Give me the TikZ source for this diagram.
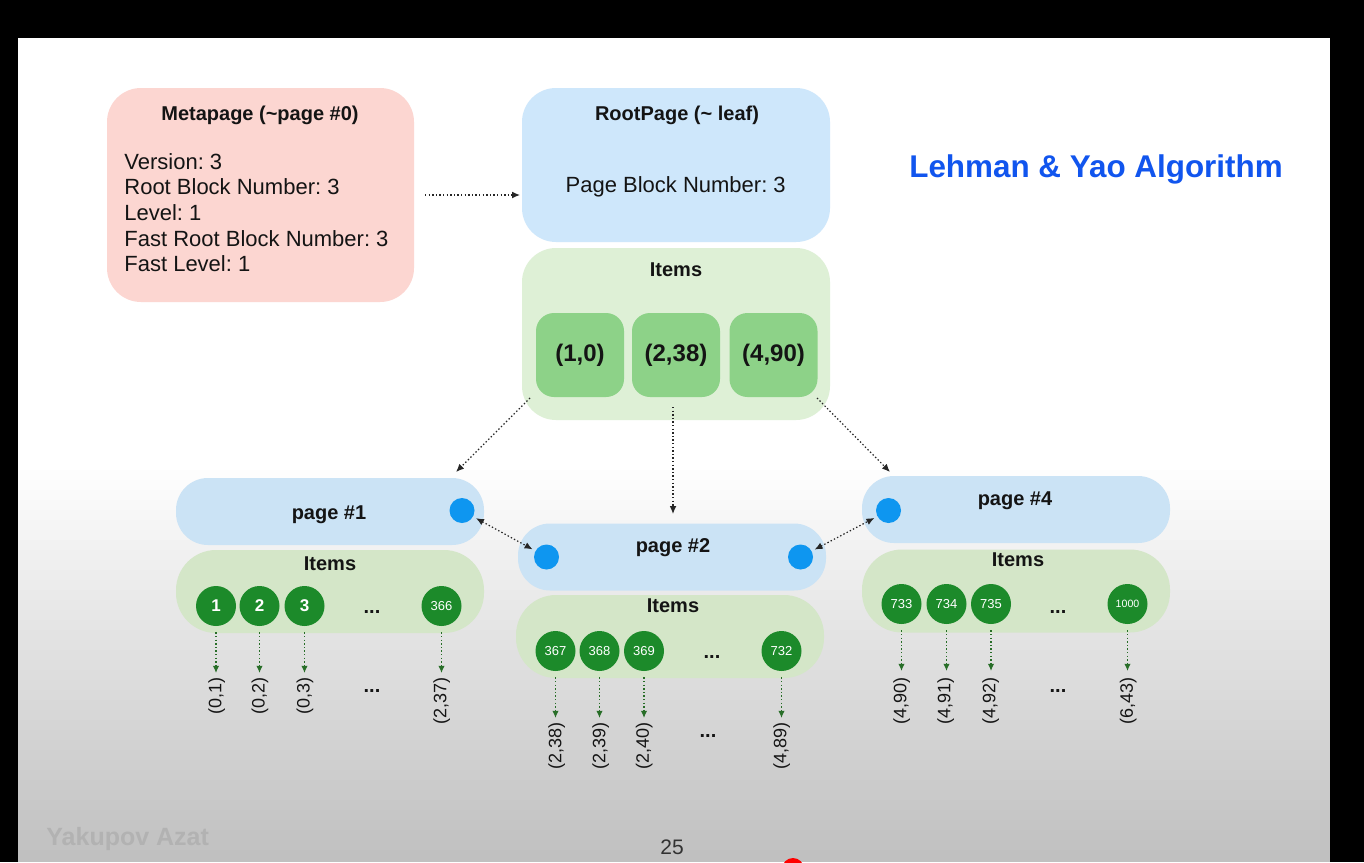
\documentclass[tikz,border=0pt]{standalone}
\usepackage{fontspec}
\setmainfont{Liberation Sans}
\frenchspacing
\usetikzlibrary{arrows.meta}
\definecolor{pinkbox}{RGB}{252,214,209}
\definecolor{bluebox}{RGB}{206,231,251}
\definecolor{greenbox}{RGB}{222,240,214}
\definecolor{bluepill}{RGB}{203,227,245}
\definecolor{greenpill}{RGB}{212,230,200}
\definecolor{itemsq}{RGB}{141,210,136}
\definecolor{darkgr}{RGB}{28,138,42}
\definecolor{dotblue}{RGB}{14,150,240}
\definecolor{titleblue}{RGB}{17,85,238}
\definecolor{txt}{RGB}{20,20,20}
\definecolor{arrgr}{RGB}{40,110,40}
\definecolor{bottomgray}{RGB}{192,192,192}
\definecolor{footgray}{RGB}{178,178,178}
\definecolor{pagenum}{RGB}{50,50,50}
\tikzset{
  box/.style={rectangle, rounded corners=17pt, inner sep=0pt, draw=none},
  pillb/.style={rectangle, rounded corners=16pt, minimum width=154pt, minimum height=33.5pt, inner sep=0pt, fill=bluepill},
  pillg/.style={rectangle, rounded corners=20pt, minimum width=154pt, minimum height=41.5pt, inner sep=0pt, fill=greenpill},
  sq/.style={rectangle, rounded corners=9pt, minimum width=44pt, minimum height=42pt, inner sep=0pt, fill=itemsq, text=txt, font=\bfseries\fontsize{12}{14}\selectfont},
  circ/.style={circle, fill=darkgr, minimum size=20pt, inner sep=0pt, text=white, font=\bfseries\fontsize{8.5}{9}\selectfont},
  circs/.style={circ, font=\fontsize{6.5}{7}\selectfont},
  circxs/.style={circ, font=\fontsize{5.3}{6}\selectfont},
  bdot/.style={circle, fill=dotblue, minimum size=12.5pt, inner sep=0pt},
  darr/.style={black!85, line width=0.6pt, dash pattern=on 0.7pt off 1.1pt, -{Latex[length=4pt,width=3.4pt]}},
  darr2/.style={black!85, line width=0.6pt, dash pattern=on 0.7pt off 1.1pt, {Latex[length=4pt,width=3.4pt]}-{Latex[length=4pt,width=3.4pt]}, shorten >=1.5pt, shorten <=1.5pt},
  garr/.style={arrgr, line width=0.6pt, dash pattern=on 0.7pt off 1.1pt, -{Latex[length=3.6pt,width=3.2pt]}, shorten <=3pt},
  bt/.style={font=\bfseries\fontsize{10}{12}\selectfont, text=txt, inner sep=0pt, anchor=base},
  rt/.style={font=\fontsize{11}{13}\selectfont, text=txt, inner sep=0pt, anchor=base west},
  lab/.style={font=\fontsize{9}{10}\selectfont, rotate=90, anchor=east, inner sep=0pt, text=txt},
  ell/.style={font=\bfseries\fontsize{10}{12}\selectfont, text=txt, inner sep=0pt, anchor=base},
}
\begin{document}
\begin{tikzpicture}[x=0.5pt,y=-0.5pt]
\useasboundingbox (0,0) rectangle (1364,862);
% frame and slide background
\fill[black] (0,0) rectangle (1364,862);
\fill[white] (18,38) rectangle (1330,461);
\fill[bottomgray] (18,850) rectangle (1330,862);
\foreach \i in {0,...,39} {
  \pgfmathsetmacro{\shadeamt}{100-\i*100/39}
  \fill[white!\shadeamt!bottomgray] (18,460+\i*10) rectangle (1330,471+\i*10);
}

% Metapage
\node[box, fill=pinkbox, minimum width=153.5pt, minimum height=107pt] (meta) at (260.5,195) {};
\node[bt] (metat) at (260,120.7) {Metapage (\textasciitilde page \#0)};
\node[rt] (m1) at (124,169.3) {Version: 3};
\node[rt] (m2) at (124,194.9) {Root Block Number: 3};
\node[rt] (m3) at (124,220.5) {Level: 1};
\node[rt] (m4) at (124,246.1) {Fast Root Block Number: 3};
\node[rt] (m5) at (124,271.7) {Fast Level: 1};

% RootPage
\node[box, fill=bluebox, minimum width=154pt, minimum height=77pt] (root) at (676,165) {};
\node[bt] (roott) at (677,120) {RootPage (\textasciitilde{} leaf)};
\node[font=\fontsize{11}{13}\selectfont, text=txt, inner sep=0pt, anchor=base] (rootb) at (675.7,192.7) {Page Block Number: 3};

% Root items
\node[box, fill=greenbox, minimum width=154pt, minimum height=86pt] (ritems) at (676,334) {};
\node[bt] (ritemst) at (676,276.7) {Items};
\node[sq] (k1) at (580,355) {(1,0)};
\node[sq] (k2) at (676,355) {(2,38)};
\node[sq] (k3) at (773.5,355) {(4,90)};

% Title
\node[font=\bfseries\fontsize{15.7}{18}\selectfont, text=titleblue, anchor=base, inner sep=0pt] (title) at (1096,177.3) {Lehman \& Yao Algorithm};

% meta -> root arrow
\coordinate (ms) at (425,195);
\coordinate (me) at (520,195);
\draw[darr] (ms) -- (me);

% page 1
\node[pillb] (p1) at (330,511.5) {};
\node[bt] (p1t) at (329,519) {page \#1};
\node[bdot] (d1) at (462,510.5) {};
\node[pillg] (i1) at (330,591.5) {};
\node[bt] (i1t) at (330,570) {Items};
\node[circ] (c11) at (216,606) {1};
\node[circ] (c12) at (259.5,606) {2};
\node[circ] (c13) at (304.5,606) {3};
\node[ell] (e1) at (372,613) {...};
\node[circs] (c14) at (441.5,606) {366};

% page 2
\node[pillb] (p2) at (672,557) {};
\node[bt] (p2t) at (673,552) {page \#2};
\node[bdot] (d2l) at (546.5,557) {};
\node[bdot] (d2r) at (800.5,557) {};
\node[pillg] (i2) at (670,636.5) {};
\node[bt] (i2t) at (673,612.7) {Items};
\node[circs] (c21) at (555.5,651) {367};
\node[circs] (c22) at (599.5,651) {368};
\node[circs] (c23) at (644,651) {369};
\node[ell] (e2) at (712,658) {...};
\node[circs] (c24) at (781.5,651) {732};

% page 4
\node[pillb] (p4) at (1016,509.5) {};
\node[bt] (p4t) at (1015,505.7) {page \#4};
\node[bdot] (d4) at (888.5,510.5) {};
\node[pillg] (i4) at (1016,591) {};
\node[bt] (i4t) at (1018,566.7) {Items};
\node[circs] (c41) at (901.5,604) {733};
\node[circs] (c42) at (946.5,604) {734};
\node[circs] (c43) at (991,604) {735};
\node[ell] (e4) at (1058,613) {...};
\node[circxs] (c44) at (1127.5,604) {1000};

% arrows from root items
\coordinate (a1s) at (530,398);
\coordinate (a1e) at (456,472);
\coordinate (a2s) at (673,407);
\coordinate (a2e) at (673,514);
\coordinate (a3s) at (817,398);
\coordinate (a3e) at (890,472);
\draw[darr] (a1s) -- (a1e);
\draw[darr] (a2s) -- (a2e);
\draw[darr] (a3s) -- (a3e);

% sibling links
\draw[darr2] (d1) -- (d2l);
\draw[darr2] (d2r) -- (d4);

% leaf pointers page 1
\coordinate (t11) at (216,673);
\coordinate (t12) at (259.5,673);
\coordinate (t13) at (304.5,673);
\coordinate (t14) at (441.5,673);
\draw[garr] (c11) -- (t11);
\draw[garr] (c12) -- (t12);
\draw[garr] (c13) -- (t13);
\draw[garr] (c14) -- (t14);
\node[lab] (l11) at (216.7,677.5) {(0,1)};
\node[lab] (l12) at (260,677.5) {(0,2)};
\node[lab] (l13) at (305,677.5) {(0,3)};
\node[lab] (l14) at (441.7,677.5) {(2,37)};
\node[ell] (le1) at (372,692.7) {...};

% leaf pointers page 2
\coordinate (t21) at (555.5,718);
\coordinate (t22) at (599.5,718);
\coordinate (t23) at (644,718);
\coordinate (t24) at (781.5,718);
\draw[garr] (c21) -- (t21);
\draw[garr] (c22) -- (t22);
\draw[garr] (c23) -- (t23);
\draw[garr] (c24) -- (t24);
\node[lab] (l21) at (556.7,722.5) {(2,38)};
\node[lab] (l22) at (600.7,722.5) {(2,39)};
\node[lab] (l23) at (644.3,722.5) {(2,40)};
\node[lab] (l24) at (781.7,722.5) {(4,89)};
\node[ell] (le2) at (708,737.7) {...};

% leaf pointers page 4
\coordinate (t41) at (901.5,671);
\coordinate (t42) at (946.5,671);
\coordinate (t43) at (991,671);
\coordinate (t44) at (1127.5,671);
\draw[garr] (c41) -- (t41);
\draw[garr] (c42) -- (t42);
\draw[garr] (c43) -- (t43);
\draw[garr] (c44) -- (t44);
\node[lab] (l41) at (901.7,677.5) {(4,90)};
\node[lab] (l42) at (945.7,677.5) {(4,91)};
\node[lab] (l43) at (990.7,677.5) {(4,92)};
\node[lab] (l44) at (1128.3,677.5) {(6,43)};
\node[ell] (le4) at (1058,692.7) {...};

% footer
\node[font=\bfseries\fontsize{12.5}{14}\selectfont, text=footgray, anchor=base west, inner sep=0pt] (author) at (46,845) {Yakupov Azat};
\node[font=\fontsize{10.5}{12}\selectfont, text=pagenum, anchor=base, inner sep=0pt] (pnum) at (672,854) {25};
\fill[red] (793,869) circle (5.5pt);
\end{tikzpicture}
\end{document}
